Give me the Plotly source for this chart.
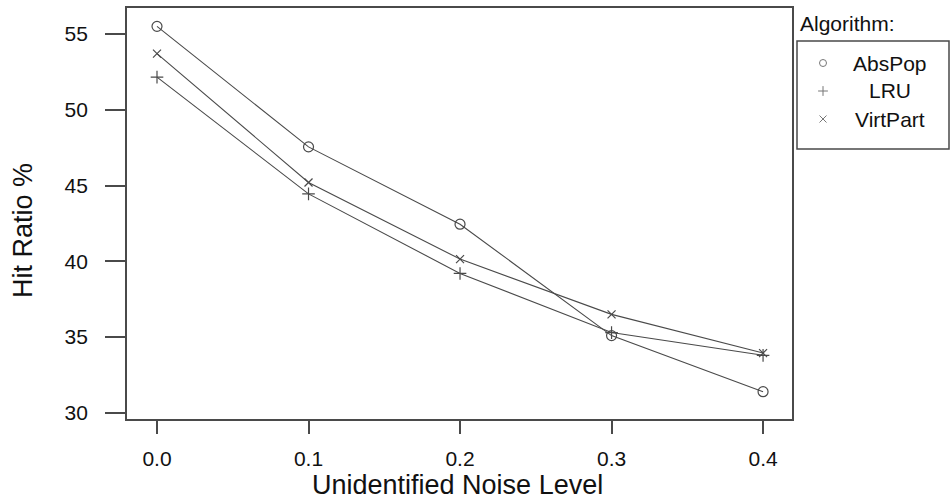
import plotly.graph_objects as go

# Noise levels and hit ratios per algorithm
noise_level = [0.0, 0.1, 0.2, 0.3, 0.4]
abspop = [55.5, 47.55, 42.45, 35.1, 31.4]
lru = [52.15, 44.45, 39.2, 35.3, 33.8]
virtpart = [53.7, 45.2, 40.15, 36.5, 33.95]

series_names = ["AbsPop", "LRU", "VirtPart"]
series_values = [abspop, lru, virtpart]
series_symbols = ["circle-open", "cross-thin-open", "x-thin-open"]
series_sizes = [10, 9, 8]

x_ticks = [0.0, 0.1, 0.2, 0.3, 0.4]
x_tick_labels = ["0.0", "0.1", "0.2", "0.3", "0.4"]
y_ticks = [30, 35, 40, 45, 50, 55]

W, H = 951, 500
FONT = "Liberation Sans, Arial, sans-serif"
LINE = "#4a4a4a"
TEXT = "#111111"

# plot region in pixels
px_l, px_r, px_t, px_b = 127, 792, 8, 419


def fx(px):
    return px / W


def fy(py):
    return 1 - py / H


fig = go.Figure()

for name, vals, sym, sz in zip(series_names, series_values, series_symbols, series_sizes):
    fig.add_trace(go.Scatter(
        x=noise_level, y=vals, name=name, mode="lines+markers",
        line=dict(color=LINE, width=1.1),
        marker=dict(symbol=sym, size=sz, color=LINE, line=dict(color=LINE, width=1.2)),
        showlegend=False, xaxis="x", yaxis="y",
    ))

# legend key symbols on a small helper axis
leg_rows = [0, 1, 2]
fig.add_trace(go.Scatter(
    x=[0, 0, 0], y=leg_rows, mode="markers",
    marker=dict(symbol=series_symbols, size=7, color="#777777",
                line=dict(color="#777777", width=1)),
    showlegend=False, xaxis="x2", yaxis="y2", hoverinfo="skip",
))

fig.update_layout(
    width=W, height=H,
    margin=dict(l=0, r=0, t=0, b=0),
    paper_bgcolor="white", plot_bgcolor="white",
    font=dict(family=FONT, color=TEXT, size=21),
    xaxis=dict(
        domain=[fx(px_l), fx(px_r)], range=[-0.0198, 0.4191],
        tickvals=x_ticks, ticktext=x_tick_labels,
        ticks="outside", ticklen=13, tickwidth=1.5, tickcolor=LINE,
        ticklabelstandoff=7,
        showline=True, linecolor=LINE, linewidth=1.8, mirror=True,
        showgrid=False, zeroline=False, automargin=False,
        tickfont=dict(size=21, family=FONT, color=TEXT),
        anchor="y",
    ),
    yaxis=dict(
        domain=[fy(px_b), fy(px_t)], range=[29.6, 56.71],
        tickvals=y_ticks,
        ticks="outside", ticklen=20, tickwidth=1.5, tickcolor=LINE,
        ticklabelstandoff=13,
        showline=True, linecolor=LINE, linewidth=1.8, mirror=True,
        showgrid=False, zeroline=False, automargin=False,
        tickfont=dict(size=21, family=FONT, color=TEXT),
        anchor="x",
    ),
    xaxis2=dict(domain=[fx(812), fx(834)], range=[-1, 1], visible=False,
                anchor="y2", fixedrange=True),
    yaxis2=dict(domain=[fy(133), fy(49)], range=[2.5, -0.5], visible=False,
                anchor="x2", fixedrange=True),
)

# axis titles
fig.add_annotation(text="Unidentified Noise Level", xref="paper", yref="paper",
                   x=fx(457), y=fy(485), xanchor="center", yanchor="middle",
                   showarrow=False, font=dict(size=27, family=FONT, color=TEXT))
fig.add_annotation(text="Hit Ratio %", xref="paper", yref="paper",
                   x=fx(23), y=fy(231), xanchor="center", yanchor="middle",
                   showarrow=False, textangle=-90,
                   font=dict(size=27, family=FONT, color=TEXT))

# legend title and box
fig.add_annotation(text="Algorithm:", xref="paper", yref="paper",
                   x=fx(798), y=fy(23), xanchor="left", yanchor="middle",
                   showarrow=False, font=dict(size=21, family=FONT, color=TEXT))
fig.add_shape(type="rect", xref="paper", yref="paper",
              x0=fx(797), x1=fx(949), y0=fy(149), y1=fy(41),
              line=dict(color=LINE, width=1.5), fillcolor="rgba(0,0,0,0)")
for i, name in enumerate(series_names):
    fig.add_annotation(text=name, xref="paper", yref="paper",
                       x=fx(890), y=fy(63 + 28 * i), xanchor="center", yanchor="middle",
                       showarrow=False, font=dict(size=21, family=FONT, color=TEXT))

fig.write_html("out.html")
